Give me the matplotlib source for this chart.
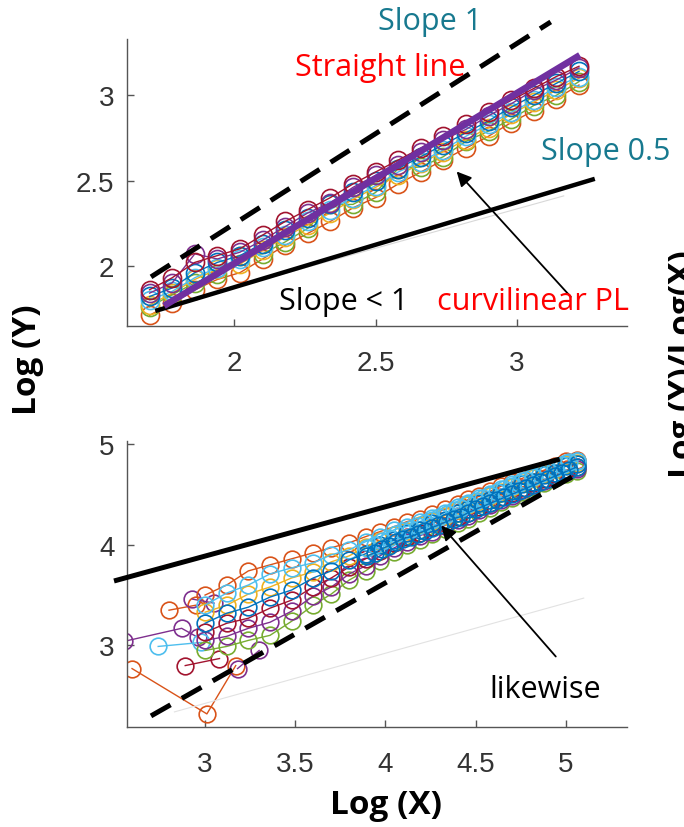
import matplotlib.pyplot as plt

# MATLAB default line colours
blue = '#0072BD'
orange = '#D95319'
yellow = '#EDB120'
purple = '#7E2F8E'
green = '#77AC30'
ltblue = '#4DBEEE'
dkred = '#A2142F'

teal = '#17798F'
red = '#FF0000'

# ---------------- top panel data ----------------
top_x = [1.70, 1.78, 1.86, 1.94, 2.02, 2.10, 2.18, 2.26, 2.34, 2.42,
         2.50, 2.58, 2.66, 2.74, 2.82, 2.90, 2.98, 3.06, 3.14, 3.22]
top_orange = [1.71, 1.78, 1.86, 1.92, 1.96, 2.04, 2.12, 2.19, 2.26, 2.34,
              2.40, 2.48, 2.55, 2.62, 2.69, 2.76, 2.84, 2.91, 2.98, 3.06]
top_green = [1.76, 1.83, 1.90, 1.95, 2.06, 2.07, 2.14, 2.22, 2.36, 2.36,
             2.43, 2.57, 2.58, 2.64, 2.73, 2.79, 2.86, 2.94, 3.00, 3.08]
top_yellow = [1.77, 1.84, 1.92, 1.98, 2.01, 2.09, 2.17, 2.24, 2.31, 2.39,
              2.46, 2.53, 2.60, 2.67, 2.74, 2.81, 2.89, 2.96, 3.03, 3.10]
top_ltblue = [1.80, 1.85, 1.93, 1.99, 2.04, 2.11, 2.18, 2.26, 2.33, 2.40,
              2.47, 2.55, 2.61, 2.68, 2.76, 2.83, 2.90, 2.97, 3.05, 3.11]
top_blue = [1.82, 1.87, 1.96, 2.02, 2.06, 2.13, 2.21, 2.28, 2.36, 2.43,
            2.50, 2.57, 2.64, 2.71, 2.78, 2.85, 2.93, 3.00, 3.07, 3.14]
top_purple = [1.84, 1.90, 2.07, 2.04, 2.08, 2.15, 2.23, 2.31, 2.37, 2.46,
              2.53, 2.59, 2.67, 2.74, 2.80, 2.88, 2.95, 3.03, 3.09, 3.16]
top_dkred = [1.86, 1.93, 2.02, 2.06, 2.10, 2.18, 2.26, 2.33, 2.40, 2.48,
             2.55, 2.62, 2.69, 2.76, 2.83, 2.90, 2.97, 3.04, 3.11, 3.17]

top_slope1 = ([1.705, 3.12], [1.935, 3.43])
top_fit = ([1.751, 3.223], [1.765, 3.235])
top_slope05 = ([1.72, 3.276], [1.735, 2.51])
top_faint = ([1.79, 3.166], [1.776, 2.41])
top_arrow_tail = (3.191, 1.818)
top_arrow_head = (2.787, 2.553)

top_xticks = [2, 2.5, 3]
top_xlabels = ['2', '2.5', '3']
top_yticks = [2, 2.5, 3]
top_ylabels = ['2', '2.5', '3']

# ---------------- bottom panel data ----------------
bot_x = [3.00, 3.12, 3.24, 3.36, 3.48, 3.60, 3.70, 3.80, 3.89, 3.97,
         4.05, 4.12, 4.19, 4.26, 4.33, 4.40, 4.46, 4.52, 4.58, 4.64,
         4.70, 4.76, 4.82, 4.88, 4.94, 5.00, 5.06]
bot_green = [2.95, 2.99, 3.05, 3.10, 3.24, 3.40, 3.51, 3.65, 3.74, 3.84,
             3.93, 4.00, 4.05, 4.11, 4.16, 4.22, 4.26, 4.32, 4.36, 4.42,
             4.46, 4.52, 4.57, 4.61, 4.66, 4.70, 4.73]
bot_purple = [3.05, 3.09, 3.17, 3.23, 3.34, 3.49, 3.58, 3.71, 3.79, 3.89,
              3.97, 4.03, 4.09, 4.13, 4.19, 4.25, 4.29, 4.34, 4.39, 4.44,
              4.48, 4.54, 4.59, 4.63, 4.68, 4.72, 4.75]
bot_dkred = [3.13, 3.22, 3.27, 3.37, 3.45, 3.58, 3.67, 3.78, 3.86, 3.94,
             4.02, 4.08, 4.12, 4.18, 4.22, 4.28, 4.32, 4.37, 4.41, 4.47,
             4.51, 4.56, 4.61, 4.65, 4.70, 4.74, 4.77]
bot_orange = [3.50, 3.60, 3.74, 3.80, 3.86, 3.92, 3.97, 4.02, 4.08, 4.13,
              4.18, 4.23, 4.26, 4.31, 4.35, 4.40, 4.45, 4.48, 4.53, 4.58,
              4.62, 4.66, 4.70, 4.74, 4.78, 4.83, 4.84]
bot_yellow = [3.33, 3.40, 3.51, 3.58, 3.67, 3.73, 3.83, 3.89, 3.98, 4.04,
              4.10, 4.14, 4.20, 4.24, 4.29, 4.34, 4.39, 4.43, 4.48, 4.52,
              4.57, 4.61, 4.66, 4.70, 4.75, 4.80, 4.81]
bot_ltblue = [3.40, 3.52, 3.60, 3.71, 3.77, 3.82, 3.90, 3.95, 4.03, 4.08,
              4.15, 4.18, 4.23, 4.27, 4.32, 4.37, 4.41, 4.46, 4.50, 4.55,
              4.60, 4.63, 4.68, 4.72, 4.76, 4.81, 4.83]
bot_blue = [3.22, 3.32, 3.38, 3.48, 3.55, 3.67, 3.74, 3.85, 3.91, 4.00,
            4.05, 4.12, 4.15, 4.22, 4.25, 4.32, 4.35, 4.41, 4.44, 4.51,
            4.53, 4.60, 4.62, 4.69, 4.71, 4.78, 4.80]

# the densely sampled blue runs that fill the right end of the band
dense_x = [3.90, 3.94, 3.98, 4.02, 4.06, 4.10, 4.14, 4.18, 4.22, 4.26,
           4.30, 4.34, 4.38, 4.42, 4.46, 4.50, 4.54, 4.58, 4.62, 4.66,
           4.70, 4.74, 4.78, 4.82, 4.86, 4.90, 4.94, 4.98, 5.02, 5.06]
dense_blue_hi = [3.97, 4.00, 4.04, 4.07, 4.11, 4.14, 4.16, 4.19, 4.22, 4.25,
                 4.28, 4.31, 4.34, 4.36, 4.40, 4.43, 4.46, 4.49, 4.52, 4.55,
                 4.58, 4.61, 4.64, 4.67, 4.70, 4.73, 4.76, 4.79, 4.82, 4.83]
dense_blue_lo = [3.89, 3.92, 3.96, 3.99, 4.03, 4.06, 4.08, 4.11, 4.14, 4.17,
                 4.20, 4.23, 4.26, 4.28, 4.32, 4.35, 4.38, 4.41, 4.44, 4.47,
                 4.50, 4.53, 4.56, 4.59, 4.62, 4.65, 4.68, 4.71, 4.74, 4.77]

# short stray series at the left of the bottom panel
stray_orange_x = [2.595, 3.01, 3.17]
stray_orange_y = [2.77, 2.32, 2.80]
stray_orange2_x = [2.80, 2.95]
stray_orange2_y = [3.35, 3.40]
stray_purple_x = [2.55, 2.87, 2.96]
stray_purple_y = [3.04, 3.17, 3.08]
stray_purple2_x = [3.18, 3.30]
stray_purple2_y = [2.77, 2.95]
stray_purple3_x = [2.93, 3.05]
stray_purple3_y = [3.46, 3.42]
stray_ltblue_x = [2.74, 2.98]
stray_ltblue_y = [2.99, 3.03]
stray_dkred_x = [2.89, 3.08]
stray_dkred_y = [2.80, 2.87]

bot_slope05 = ([2.495, 4.967], [3.64, 4.85])
bot_slope1 = ([2.70, 5.09], [2.30, 4.73])
bot_faint = ([2.83, 5.10], [2.34, 3.47])
bot_arrow_tail = (4.945, 2.89)
bot_arrow_head = (4.31, 4.19)

bot_xticks = [3, 3.5, 4, 4.5, 5]
bot_xlabels = ['3', '3.5', '4', '4.5', '5']
bot_yticks = [3, 4, 5]
bot_ylabels = ['3', '4', '5']

W, H = 684, 828


def fx(x):
    return x / W


def fy(y):
    return 1 - y / H


fig = plt.figure(figsize=(6.84, 8.28), dpi=100)
ax1 = fig.add_axes([fx(127), fy(327), 500 / W, 287 / H])
ax2 = fig.add_axes([fx(127), fy(728), 500 / W, 286 / H])

spine_col = '#555555'
tick_col = '#333333'


def style(ax, xt, xl, yt, yl):
    for s in ['top', 'right']:
        ax.spines[s].set_visible(False)
    for s in ['left', 'bottom']:
        ax.spines[s].set_color(spine_col)
        ax.spines[s].set_linewidth(1.0)
    ax.set_xticks(xt)
    ax.set_xticklabels(xl)
    ax.set_yticks(yt)
    ax.set_yticklabels(yl)
    ax.tick_params(direction='in', length=5, width=1, color=spine_col,
                   labelcolor=tick_col, labelsize=20)
    ax.tick_params(axis='x', pad=17)
    ax.tick_params(axis='y', pad=9)
    for lab in ax.get_xticklabels() + ax.get_yticklabels():
        lab.set_family('Liberation Sans')


mk = dict(marker='o', mfc='none', ms=13, mew=1.2, lw=1.0)

# top panel
for ys, c in [(top_orange, orange), (top_green, green), (top_yellow, yellow),
              (top_ltblue, ltblue), (top_blue, blue), (top_purple, purple),
              (top_dkred, dkred)]:
    ax1.plot(top_x, ys, color=c, **mk)

ax1.plot(*top_faint, color='#d8d8d8', lw=0.8, zorder=4)
ax1.plot(*top_slope05, color='black', lw=3.2, zorder=5, solid_capstyle='butt')
ax1.plot(*top_slope1, color='black', lw=3.6, dashes=(4.5, 2.6), zorder=5,
         clip_on=False)
ax1.plot(*top_fit, color='#7030A0', lw=4.8, zorder=6, solid_capstyle='butt')
ax1.annotate('', xy=top_arrow_head, xytext=top_arrow_tail,
             arrowprops=dict(arrowstyle='-|>', color='black', lw=1.3,
                             mutation_scale=22, shrinkA=0, shrinkB=0),
             zorder=7)
ax1.set_xlim(1.62, 3.39)
ax1.set_ylim(1.647, 3.33)
style(ax1, top_xticks, top_xlabels, top_yticks, top_ylabels)

# bottom panel
mk2 = dict(marker='o', mfc='none', ms=12, mew=1.2, lw=1.0)
for xs, ys, c in [(stray_orange_x, stray_orange_y, orange),
                  (stray_orange2_x, stray_orange2_y, orange),
                  (stray_purple_x, stray_purple_y, purple),
                  (stray_purple2_x, stray_purple2_y, purple),
                  (stray_purple3_x, stray_purple3_y, purple),
                  (stray_ltblue_x, stray_ltblue_y, ltblue),
                  (stray_dkred_x, stray_dkred_y, dkred)]:
    ax2.plot(xs, ys, color=c, **mk2)
for ys, c in [(bot_green, green), (bot_purple, purple), (bot_dkred, dkred),
              (bot_orange, orange), (bot_yellow, yellow),
              (bot_ltblue, ltblue), (bot_blue, blue)]:
    ax2.plot(bot_x, ys, color=c, **mk2)
ax2.plot(dense_x, dense_blue_hi, color=ltblue, **mk2)
ax2.plot(dense_x, dense_blue_lo, color=blue, **mk2)

ax2.plot(*bot_faint, color='#e2e2e2', lw=0.8, zorder=4)
ax2.plot(*bot_slope05, color='black', lw=3.6, zorder=5, clip_on=False,
         solid_capstyle='butt')
ax2.plot(*bot_slope1, color='black', lw=3.6, dashes=(4.5, 2.6), zorder=5)
ax2.annotate('', xy=bot_arrow_head, xytext=bot_arrow_tail,
             arrowprops=dict(arrowstyle='-|>', color='black', lw=1.3,
                             mutation_scale=22, shrinkA=0, shrinkB=0),
             zorder=7)
ax2.set_xlim(2.567, 5.34)
ax2.set_ylim(2.19, 5.03)
style(ax2, bot_xticks, bot_xlabels, bot_yticks, bot_ylabels)

# annotations
tf = dict(family='Open Sans', fontsize=22)
fig.text(fx(378), fy(22), 'Slope 1', color=teal, ha='left', va='center', **tf)
fig.text(fx(295), fy(68), 'Straight line', color=red, ha='left', va='center', **tf)
fig.text(fx(541), fy(152), 'Slope 0.5', color=teal, ha='left', va='center', **tf)
fig.text(fx(279), fy(302), 'Slope < 1', color='black', ha='left', va='center', **tf)
fig.text(fx(629), fy(302), 'curvilinear PL', color=red, ha='right', va='center', **tf)
fig.text(fx(545), fy(690), 'likewise', color='black', ha='center', va='center', **tf)

lf = dict(family='Open Sans', fontsize=24, fontweight='bold')
fig.text(fx(28), fy(360), 'Log (Y)', rotation=90, ha='center', va='center', **lf)
fig.text(fx(386), fy(806), 'Log (X)', ha='center', va='center', **lf)
# this label belongs to a neighbouring panel and is cut by the right edge
fig.text(fx(667), fy(364), 'Log (Y)/Log(X)', rotation=90, ha='left',
         va='center', **lf)

fig.savefig('out.png', dpi=100)
